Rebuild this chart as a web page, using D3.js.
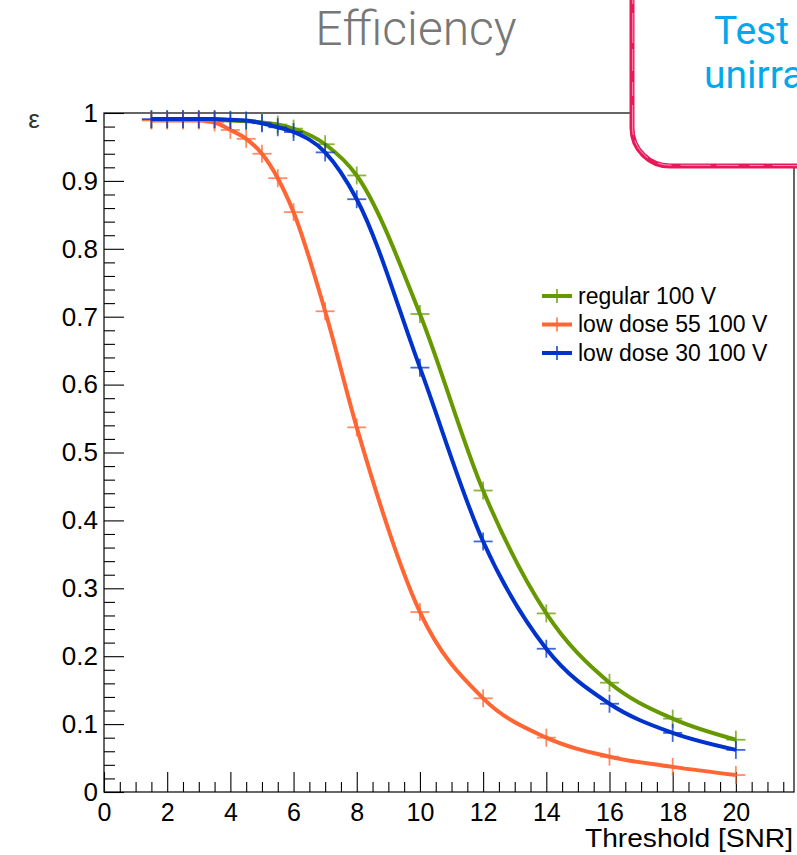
<!DOCTYPE html>
<html>
<head>
<meta charset="utf-8">
<script src="https://cdn.jsdelivr.net/npm/d3@7"></script>
<style>
  html, body { margin: 0; padding: 0; background: #fff; overflow: hidden; }
  svg { display: block; }
</style>
</head>
<body>
<svg id="chart" width="797" height="855"></svg>
<script>
// Threshold scan points (SNR)
const thresholds = [1.5, 2, 2.5, 3, 3.5, 4, 4.5, 5, 5.5, 6, 7, 8, 10, 12, 14, 16, 18, 20];

// Efficiency per sensor
const regular100 = [0.990, 0.990, 0.990, 0.990, 0.990, 0.989, 0.988, 0.986, 0.983, 0.977, 0.954, 0.908, 0.704, 0.444, 0.263, 0.161, 0.108, 0.077];
const lowDose55  = [0.989, 0.989, 0.989, 0.989, 0.986, 0.975, 0.962, 0.940, 0.904, 0.854, 0.708, 0.537, 0.265, 0.138, 0.080, 0.052, 0.037, 0.025];
const lowDose30  = [0.991, 0.991, 0.991, 0.991, 0.991, 0.990, 0.989, 0.985, 0.979, 0.972, 0.942, 0.873, 0.625, 0.369, 0.211, 0.130, 0.087, 0.062];

const seriesNames = ["regular 100 V", "low dose 55 100 V", "low dose 30 100 V"];
const seriesColors = ["#669900", "#ff6633", "#0033cc"];

const xMajorTicks = [0, 2, 4, 6, 8, 10, 12, 14, 16, 18, 20];
const yMajorTicks = [0, 0.1, 0.2, 0.3, 0.4, 0.5, 0.6, 0.7, 0.8, 0.9, 1];

const svg = d3.select("#chart");
const frameL = 104, frameR = 794, frameT = 113, frameB = 792;

const x = d3.scaleLinear().domain([0, 21.84]).range([frameL, frameR]);
const y = d3.scaleLinear().domain([0, 1]).range([frameB, frameT]);

const font = "'Liberation Sans', Arial, Helvetica, sans-serif";

// frame
svg.append("rect")
  .attr("x", frameL).attr("y", frameT)
  .attr("width", frameR - frameL).attr("height", frameB - frameT)
  .attr("fill", "none").attr("stroke", "#000").attr("stroke-width", 1.2);

// minor ticks
const xMinor = d3.range(0, 21.6, 0.5).filter(v => !xMajorTicks.includes(v));
const yMinor = d3.range(0, 1.0001, 0.02).map(v => +v.toFixed(2)).filter(v => !yMajorTicks.some(m => Math.abs(m - v) < 1e-6));

svg.append("g")
  .attr("transform", `translate(0,${frameB})`)
  .call(d3.axisBottom(x).tickValues(xMinor).tickSize(-10).tickFormat(""))
  .call(g => g.select(".domain").remove())
  .call(g => g.selectAll("line").attr("stroke", "#000").attr("stroke-width", 1.1));

svg.append("g")
  .attr("transform", `translate(${frameL},0)`)
  .call(d3.axisLeft(y).tickValues(yMinor).tickSize(-11).tickFormat(""))
  .call(g => g.select(".domain").remove())
  .call(g => g.selectAll("line").attr("stroke", "#000").attr("stroke-width", 1.1));

// major ticks + labels
svg.append("g")
  .attr("transform", `translate(0,${frameB})`)
  .call(d3.axisBottom(x).tickValues(xMajorTicks).tickSize(-20).tickPadding(11).tickFormat(d3.format("d")))
  .call(g => g.select(".domain").remove())
  .call(g => g.selectAll("line").attr("stroke", "#000").attr("stroke-width", 1.1))
  .call(g => g.selectAll("text").attr("font-family", font).attr("font-size", 25).attr("fill", "#000"));

svg.append("g")
  .attr("transform", `translate(${frameL},0)`)
  .call(d3.axisLeft(y).tickValues(yMajorTicks).tickSize(-20).tickPadding(6).tickFormat(d => d === 0 ? "0" : d === 1 ? "1" : d3.format(".1f")(d)))
  .call(g => g.select(".domain").remove())
  .call(g => g.selectAll("line").attr("stroke", "#000").attr("stroke-width", 1.1))
  .call(g => g.selectAll("text").attr("font-family", font).attr("font-size", 26).attr("fill", "#000"));

// axis titles
svg.append("text")
  .attr("x", frameR - 1).attr("y", 847)
  .attr("text-anchor", "end")
  .attr("font-family", font).attr("font-size", 25)
  .attr("textLength", 208).attr("lengthAdjust", "spacingAndGlyphs")
  .text("Threshold [SNR]");

svg.append("text")
  .attr("x", 34).attr("y", 128)
  .attr("text-anchor", "middle")
  .attr("font-family", font).attr("font-size", 26)
  .attr("fill", "#333")
  .text("ε");

// curves and markers
const allSeries = [regular100, lowDose55, lowDose30];
const line = d3.line()
  .x(d => x(d[0])).y(d => y(d[1]))
  .curve(d3.curveMonotoneX);

allSeries.forEach((vals, i) => {
  const pts = thresholds.map((t, j) => [t, vals[j]]);
  const g = svg.append("g");
  g.append("path")
    .attr("d", line(pts))
    .attr("fill", "none")
    .attr("stroke", seriesColors[i])
    .attr("stroke-width", 4);
  const m = g.selectAll(".m").data(pts).enter().append("g");
  m.append("line")
    .attr("x1", d => x(d[0]) - 9.5).attr("x2", d => x(d[0]) + 9.5)
    .attr("y1", d => y(d[1])).attr("y2", d => y(d[1]))
    .attr("stroke", seriesColors[i]).attr("stroke-width", 1.8).attr("stroke-opacity", 0.75);
  m.append("line")
    .attr("x1", d => x(d[0])).attr("x2", d => x(d[0]))
    .attr("y1", d => y(d[1]) - 9).attr("y2", d => y(d[1]) + 9)
    .attr("stroke", seriesColors[i]).attr("stroke-width", 1.8).attr("stroke-opacity", 0.75);
});

// legend
const legend = svg.append("g").attr("transform", "translate(542,296)");
seriesNames.forEach((name, i) => {
  const row = legend.append("g").attr("transform", `translate(0,${i * 28.5})`);
  row.append("line").attr("x1", 0).attr("x2", 30).attr("y1", 0).attr("y2", 0)
    .attr("stroke", seriesColors[i]).attr("stroke-width", 4);
  row.append("line").attr("x1", 15).attr("x2", 15).attr("y1", -7).attr("y2", 7)
    .attr("stroke", seriesColors[i]).attr("stroke-width", 1.8).attr("stroke-opacity", 0.8);
  row.append("text").attr("x", 36).attr("y", 7.5)
    .attr("font-family", font).attr("font-size", 23).attr("fill", "#000")
    .text(name);
});

// headline
svg.append("text")
  .attr("x", 416).attr("y", 45)
  .attr("text-anchor", "middle")
  .attr("font-family", "Roboto, 'Open Sans', Lato, sans-serif")
  .attr("font-weight", 300)
  .attr("font-size", 48)
  .attr("fill", "#777")
  .text("Efficiency");

// callout box (hand-drawn outline)
const boxPath = "M632,-10 L632,128 A38,38 0 0 0 670,166 L810,166 L810,-10 Z";
svg.append("path").attr("d", boxPath).attr("fill", "#fff").attr("stroke", "none");
const edge = "M632,-10 L632,128 A38,38 0 0 0 670,166 L810,166";
svg.append("path").attr("d", edge).attr("fill", "none")
  .attr("stroke", "#e8195a").attr("stroke-width", 5);
svg.append("path").attr("d", "M632.8,-10 L632.6,128 A37.5,37.5 0 0 0 670,165.2 L810,165.6").attr("fill", "none")
  .attr("stroke", "#fff").attr("stroke-width", 0.7).attr("stroke-opacity", 0.8)
  .attr("stroke-dasharray", "14 9 30 6 22 11");

svg.append("text")
  .attr("x", 714).attr("y", 44)
  .attr("font-family", "Roboto, 'Open Sans', Lato, sans-serif")
  .attr("font-size", 39).attr("fill", "#00a9ec")
  .text("Test");
svg.append("text")
  .attr("x", 704).attr("y", 88)
  .attr("font-family", "Roboto, 'Open Sans', Lato, sans-serif")
  .attr("font-size", 39).attr("fill", "#00a9ec")
  .text("unirradiated");
</script>
</body>
</html>
